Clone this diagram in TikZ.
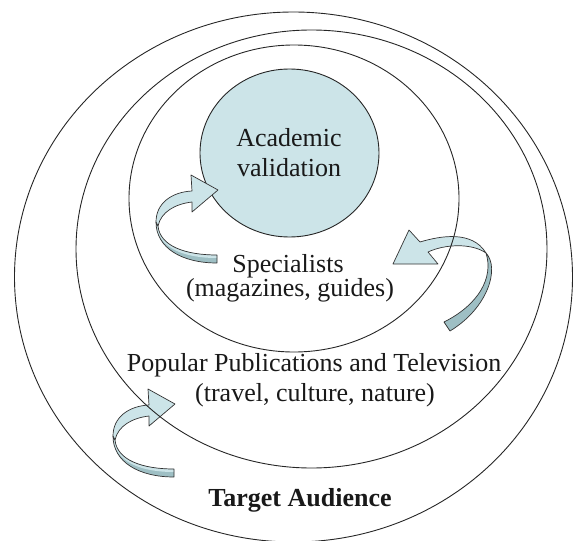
\documentclass[tikz,border=0pt]{standalone}
\usepackage{fontspec}
\setmainfont{Liberation Serif}
\usetikzlibrary{shapes.geometric}
\definecolor{fillblue}{RGB}{204,228,232}
\definecolor{darkblue}{RGB}{158,191,196}
\begin{document}
\begin{tikzpicture}[x=1pt,y=-1pt,
  ring/.style={draw=black!85, line width=0.9pt, ellipse, inner sep=0pt, outer sep=0pt},
  lbl/.style={font=\fontsize{26}{30}\selectfont, inner sep=0pt, anchor=base, text=black!90},
  arrowedge/.style={draw=black!80, line width=0.7pt, line join=round},
  curvarrow/.pic={
    % back (underside) of the ribbon
    \fill[darkblue] (-62,32) .. controls (-62,58) and (-36,73) .. (-1,73) -- (-1,65)
      .. controls (-33,65) and (-58,56) .. (-60,36) -- cycle;
    \fill[fillblue] (-60,36) .. controls (-58,56) and (-33,65) .. (-1,65) -- (-1,68)
      .. controls (-34,68) and (-59,58) .. (-61.5,36) -- cycle;
    \path[arrowedge] (-62,32) .. controls (-62,58) and (-36,73) .. (-1,73) -- (-1,65)
      .. controls (-33,65) and (-58,56) .. (-60,36) -- cycle;
    % front of the ribbon with head
    \path[arrowedge, fill=fillblue] (-27,-15) -- (0,0) -- (-26,22) -- (-26,12)
      .. controls (-43,14) and (-57,22) .. (-60,36) -- (-62,32)
      .. controls (-62,13) and (-46,2) .. (-26,1) -- cycle;
  }
]
\useasboundingbox (0,0) rectangle (574,541);
% innermost filled circle
\node[ring, fill=fillblue, minimum width=179pt, minimum height=168pt] (academic) at (289.5,153) {};
% curved arrows
\pic at (218,190) {curvarrow};
\pic at (175,404) {curvarrow};
% right arrow (pointing left)
\path[arrowedge, fill=darkblue] (486,253) .. controls (500,268) and (488,308) .. (450,331)
  -- (444,322) .. controls (478,305) and (494,278) .. (486,253) -- cycle;
\path[arrowedge, fill=fillblue] (409,230) -- (393,264) -- (438,264) -- (428,252)
  .. controls (445,244) and (472,243) .. (486,253)
  .. controls (472,230) and (440,236) .. (420,242) -- cycle;
% rings
\node[ring, minimum width=330pt, minimum height=307pt] (specialists) at (294,198.5) {};
\node[ring, minimum width=471pt, minimum height=438pt] (popular) at (311.5,249) {};
\node[ring, minimum width=558pt, minimum height=530pt] (audience) at (293.5,277) {};
% labels
\node[lbl] (t1) at (289,146.7) {Academic};
\node[lbl] (t2) at (289,176) {validation};
\node[lbl] (t3) at (288,272) {Specialists};
\node[lbl] (t4) at (290,296) {(magazines, guides)};
\node[lbl] (t5) at (314,371.7) {Popular Publications and Television};
\node[lbl] (t6) at (315,401.7) {(travel, culture, nature)};
\node[lbl, font=\bfseries\fontsize{26}{30}\selectfont] (t7) at (300,506.7) {Target Audience};
\end{tikzpicture}
\end{document}
